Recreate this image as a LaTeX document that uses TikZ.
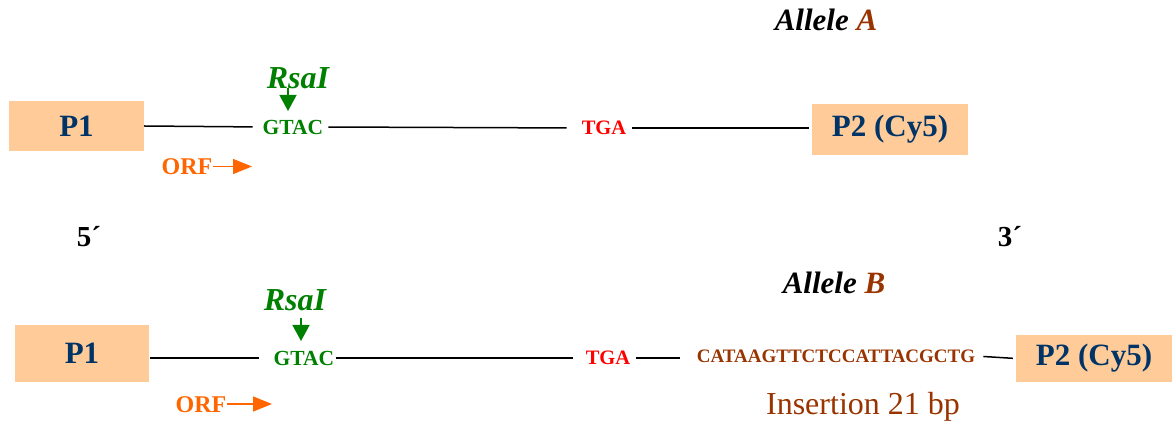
\documentclass[tikz,border=0pt]{standalone}
\usepackage{fontspec}
\setmainfont{Liberation Serif}
\usetikzlibrary{arrows.meta}
\definecolor{peach}{RGB}{255,204,153}
\definecolor{navy}{RGB}{0,51,102}
\definecolor{dgreen}{RGB}{0,128,0}
\definecolor{orf}{RGB}{255,102,0}
\definecolor{brown}{RGB}{153,51,0}
\tikzset{
  primer/.style={fill=peach, inner sep=0pt, text=navy, font=\fontsize{31}{36}\selectfont\bfseries},
  seq/.style={inner sep=0pt, font=\fontsize{21.5}{24}\selectfont\bfseries},
  enz/.style={inner sep=0pt, text=dgreen, font=\fontsize{32}{38}\selectfont\bfseries\itshape},
  orflab/.style={inner sep=0pt, text=orf, font=\fontsize{24}{28}\selectfont\bfseries},
  allele/.style={inner sep=0pt, font=\fontsize{31}{36}\selectfont\bfseries\itshape},
  endlab/.style={inner sep=0pt, font=\fontsize{29}{34}\selectfont\bfseries},
  dna/.style={line width=1.5pt, black},
  cut/.style={draw=dgreen, fill=dgreen, line width=1.5pt, -{Triangle[length=16pt,width=17pt]}},
  orfarrow/.style={draw=orf, line width=1.3pt, -{Triangle[length=19pt,width=15pt,fill=orf]}, orf},
}
\begin{document}
\begin{tikzpicture}[x=1pt,y=-1pt]
\useasboundingbox (0,0) rectangle (1172,427);
% ---------- Allele A ----------
\node[allele] (alA) at (826,20) {Allele \textcolor{brown}{A}};
\node[primer, minimum width=135pt, minimum height=50pt] (p1a) at (76.5,126) {P1};
\node[primer, minimum width=156pt, minimum height=51pt] (p2a) at (890,129.5) {P2 (Cy5)};
\node[seq, text=dgreen] (gtacA) at (293,127) {GTAC};
\node[seq, text=red, font=\fontsize{20.5}{24}\selectfont\bfseries] (tgaA) at (604,128) {TGA};
\node[enz] (rsaA) at (298,78) {RsaI};
\coordinate (cutA) at (288,111);
\draw[cut] (288,88) -- (cutA);
\draw[dna, shorten >=10pt] (p1a.east) -- (gtacA.west);
\draw[dna, shorten <=5pt, shorten >=15pt] (gtacA.east) -- (tgaA.west);
\draw[dna, shorten <=6pt, shorten >=3pt] (tgaA.east) -- (p2a.west |- tgaA.center);
\node[orflab] (orfA) at (187,166.5) {ORF};
\coordinate (orfAend) at (252,166.5);
\draw[orfarrow] (orfA.east) -- (orfAend);
% ---------- ends ----------
\node[endlab] (five) at (89,237) {5´};
\node[endlab] (three) at (1010,237) {3´};
% ---------- Allele B ----------
\node[allele] (alB) at (834,283) {Allele \textcolor{brown}{B}};
\node[primer, minimum width=134pt, minimum height=57pt] (p1b) at (82,353.5) {P1};
\node[primer, minimum width=156pt, minimum height=47pt] (p2b) at (1094,358.5) {P2 (Cy5)};
\node[seq, text=dgreen] (gtacB) at (304,358) {GTAC};
\node[seq, text=red, font=\fontsize{20.5}{24}\selectfont\bfseries] (tgaB) at (608,358) {TGA};
\node[seq, text=brown, font=\fontsize{19}{22}\selectfont\bfseries] (ins) at (836,356) {CATAAGTTCTCCATTACGCTG};
\node[enz] (rsaB) at (295,300) {RsaI};
\coordinate (cutB) at (301,341);
\draw[cut] (301,318) -- (cutB);
\draw[dna, shorten <=1pt, shorten >=15pt] (p1b.east |- gtacB.center) -- (gtacB.west);
\draw[dna, shorten <=2pt, shorten >=13pt] (gtacB.east) -- (tgaB.west);
\draw[dna, shorten <=6pt, shorten >=17pt] (tgaB.east) -- (ins.west |- tgaB.center);
\draw[dna, shorten <=8pt, shorten >=3pt] (ins.east) -- (p2b.west);
\node[orflab] (orfB) at (201,405) {ORF};
\coordinate (orfBend) at (272,404);
\draw[orfarrow] (orfB.east |- orfBend) -- (orfBend);
\node[inner sep=0pt, text=brown, font=\fontsize{32}{38}\selectfont] (insl) at (863,407) {Insertion 21 bp};
\end{tikzpicture}
\end{document}
